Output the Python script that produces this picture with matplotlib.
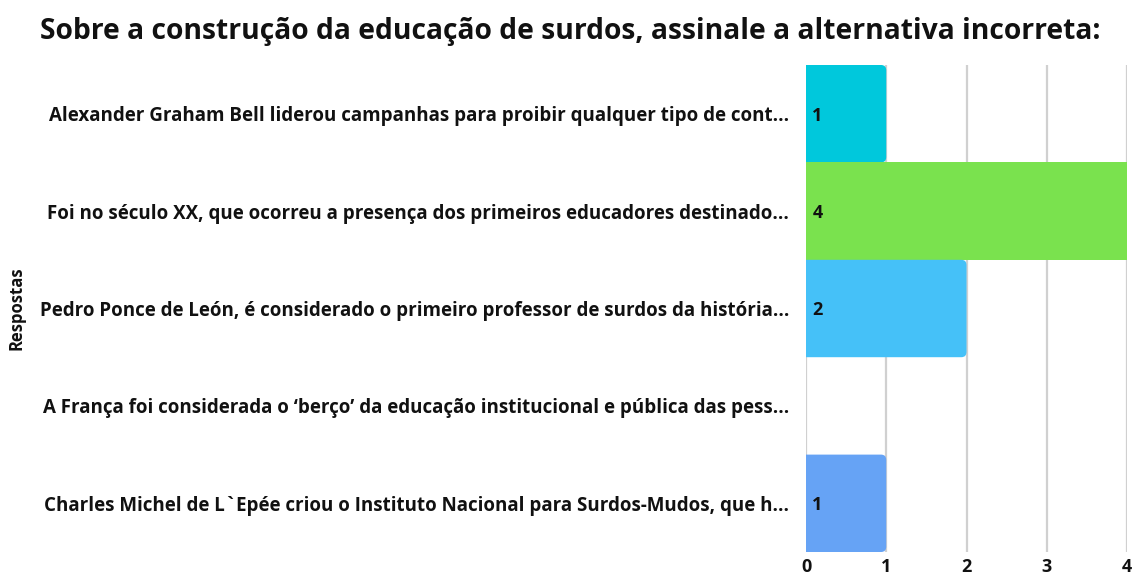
import matplotlib
matplotlib.use("Agg")
import matplotlib.pyplot as plt
from matplotlib.path import Path
from matplotlib.patches import PathPatch

plt.rcParams['font.family'] = ['Open Sans', 'DejaVu Sans']

title = "Sobre a construção da educação de surdos, assinale a alternativa incorreta:"
categories = [
    "Alexander Graham Bell liderou campanhas para proibir qualquer tipo de cont...",
    "Foi no século XX, que ocorreu a presença dos primeiros educadores destinado...",
    "Pedro Ponce de León, é considerado o primeiro professor de surdos da história...",
    "A França foi considerada o ‘berço’ da educação institucional e pública das pess...",
    "Charles Michel de L`Epée criou o Instituto Nacional para Surdos-Mudos, que h...",
]
values = [1, 4, 2, 0, 1]
colors = ["#00C8DC", "#7AE24E", "#45C1F8", "#F5A623", "#66A3F5"]
xticks = [0, 1, 2, 3, 4]
ylabel = "Respostas"

fig = plt.figure(figsize=(11.39, 5.74), dpi=100)
ax = fig.add_axes([806/1139, 1 - 552/574, (1127-806)/1139, (552-65)/574])

ypos = list(range(len(categories)))
bars = ax.barh(ypos, values, height=1.0, color=colors, zorder=2)
ax.set_xlim(0, 4)
ax.set_ylim(len(categories) - 0.5, -0.5)

# replace bars with right-rounded versions
rx, ry = 0.065, 0.055
for b, v, c in zip(bars, values, colors):
    b.set_visible(False)
    if v <= 0:
        continue
    x0, y0 = b.get_x(), b.get_y()
    w, h = b.get_width(), b.get_height()
    x1, y1 = x0 + w, y0 + h
    if v >= 4:
        verts = [(x0, y0), (x1, y0), (x1, y1), (x0, y1), (x0, y0)]
        codes = [Path.MOVETO] + [Path.LINETO] * 3 + [Path.CLOSEPOLY]
    else:
        verts = [(x0, y0), (x1 - rx, y0), (x1, y0), (x1, y0 + ry),
                 (x1, y1 - ry), (x1, y1), (x1 - rx, y1), (x0, y1), (x0, y0)]
        codes = [Path.MOVETO, Path.LINETO, Path.CURVE3, Path.CURVE3,
                 Path.LINETO, Path.CURVE3, Path.CURVE3, Path.LINETO, Path.CLOSEPOLY]
    ax.add_patch(PathPatch(Path(verts, codes), facecolor=c, edgecolor='none', zorder=2))
    ax.text(x0 + 0.08, b.get_y() + h / 2 + 0.02, str(v), va='center', ha='left',
            fontsize=13, fontweight='bold', color='#111111', zorder=3)

ax.set_yticks(ypos)
ax.set_yticklabels(categories, fontsize=13.5, fontweight='bold', color='#111111')
ax.set_xticks(xticks)
ax.set_xticklabels([str(t) for t in xticks], fontsize=13, fontweight='bold', color='#111111')
ax.tick_params(axis='both', length=0)
ax.tick_params(axis='y', pad=12)
ax.tick_params(axis='x', pad=4)
ax.grid(axis='x', color='#D0D0D0', linewidth=1.6, zorder=0)
for s in ax.spines.values():
    s.set_visible(False)

ax.set_ylabel(ylabel, fontsize=12, fontweight='bold', color='#111111')
ax.yaxis.set_label_coords(-(806 - 26) / (1127 - 806), 0.5)

fig.text(40/1139, 1 - 31/574, title, fontsize=20.3, fontweight='bold', color='#111111',
         ha='left', va='center')

fig.savefig("out.png", dpi=100)
